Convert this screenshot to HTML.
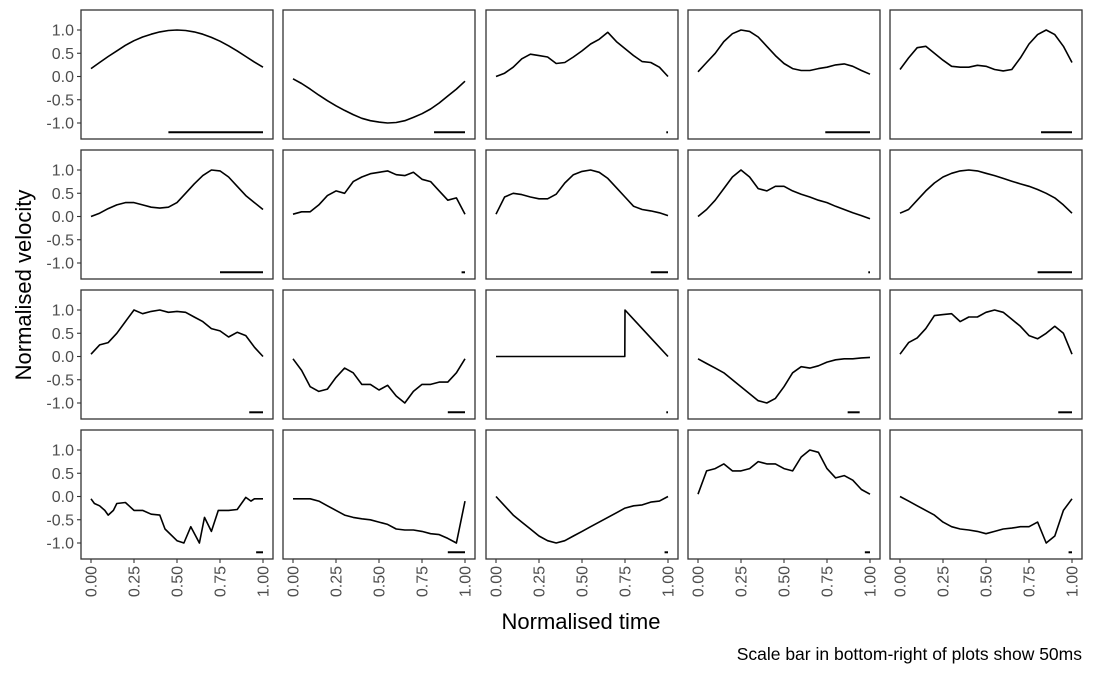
<!DOCTYPE html>
<html><head><meta charset="utf-8"><style>
html,body{margin:0;padding:0;background:#fff;}
svg{display:block;font-family:"Liberation Sans",sans-serif;}
</style></head><body>
<svg id="chart" width="1093" height="675" xmlns="http://www.w3.org/2000/svg"></svg>
<script>
const U=[0,0.05,0.1,0.15,0.2,0.25,0.3,0.35,0.4,0.45,0.5,0.55,0.6,0.65,0.7,0.75,0.8,0.85,0.9,0.95,1];
const yTickValues=[1,0.5,0,-0.5,-1];
const yTickLabels=["1.0","0.5","0.0","-0.5","-1.0"];
const xTickValues=[0,0.25,0.5,0.75,1];
const xTickLabels=["0.00","0.25","0.50","0.75","1.00"];
const s1=[0.17,0.3,0.43,0.55,0.67,0.77,0.85,0.91,0.96,0.99,1.0,0.99,0.96,0.91,0.84,0.76,0.66,0.55,0.43,0.31,0.2];
const s2=[-0.05,-0.15,-0.27,-0.4,-0.52,-0.63,-0.73,-0.82,-0.9,-0.95,-0.98,-1.0,-0.99,-0.95,-0.88,-0.8,-0.7,-0.57,-0.42,-0.27,-0.1];
const s3=[0,0.07,0.2,0.38,0.48,0.45,0.42,0.28,0.3,0.42,0.55,0.7,0.8,0.95,0.75,0.6,0.45,0.32,0.3,0.2,0.0];
const s4=[0.1,0.3,0.5,0.75,0.92,1.0,0.97,0.85,0.65,0.45,0.28,0.17,0.13,0.13,0.17,0.2,0.25,0.27,0.22,0.13,0.05];
const s5=[0.15,0.4,0.62,0.65,0.5,0.35,0.22,0.2,0.2,0.24,0.22,0.15,0.12,0.15,0.4,0.7,0.9,1.0,0.9,0.65,0.3];
const s6=[0,0.07,0.17,0.25,0.3,0.3,0.25,0.2,0.18,0.2,0.3,0.5,0.7,0.88,1.0,0.98,0.85,0.65,0.45,0.3,0.15];
const s7=[0.05,0.1,0.1,0.25,0.45,0.55,0.5,0.75,0.85,0.92,0.95,0.98,0.9,0.88,0.95,0.8,0.75,0.55,0.35,0.4,0.05];
const s8=[0.05,0.42,0.5,0.47,0.42,0.38,0.38,0.48,0.72,0.9,0.97,1.0,0.95,0.82,0.62,0.42,0.22,0.15,0.12,0.08,0.02];
const s9=[0,0.15,0.35,0.6,0.85,1.0,0.85,0.6,0.55,0.65,0.65,0.55,0.48,0.42,0.35,0.3,0.22,0.15,0.08,0.02,-0.05];
const s10=[0.07,0.15,0.35,0.55,0.72,0.85,0.93,0.98,1.0,0.98,0.93,0.88,0.82,0.76,0.7,0.65,0.58,0.5,0.4,0.25,0.07];
const s11=[0.05,0.25,0.3,0.5,0.75,1.0,0.92,0.97,1.0,0.95,0.97,0.95,0.85,0.75,0.6,0.55,0.42,0.52,0.45,0.2,0.0];
const s12=[-0.05,-0.3,-0.65,-0.75,-0.7,-0.45,-0.25,-0.35,-0.6,-0.6,-0.72,-0.62,-0.85,-1.0,-0.75,-0.6,-0.6,-0.55,-0.55,-0.35,-0.05];
const t13=[0,0.749,0.75,0.8,0.9,1.0];
const s13=[0,0,1,0.8,0.4,0];
const s14=[-0.05,-0.15,-0.25,-0.35,-0.5,-0.65,-0.8,-0.95,-1.0,-0.9,-0.65,-0.35,-0.22,-0.25,-0.2,-0.12,-0.07,-0.05,-0.05,-0.03,-0.02];
const s15=[0.05,0.3,0.4,0.6,0.88,0.9,0.92,0.75,0.85,0.85,0.95,1.0,0.95,0.8,0.65,0.45,0.38,0.5,0.65,0.5,0.05];
const t16=[0,0.02,0.05,0.08,0.1,0.13,0.15,0.2,0.25,0.3,0.35,0.4,0.43,0.5,0.54,0.58,0.63,0.66,0.7,0.74,0.8,0.85,0.9,0.93,0.95,1];
const s16=[-0.05,-0.15,-0.2,-0.3,-0.4,-0.3,-0.15,-0.13,-0.3,-0.3,-0.38,-0.4,-0.7,-0.95,-1.0,-0.65,-1.0,-0.45,-0.75,-0.3,-0.3,-0.28,-0.02,-0.1,-0.05,-0.05];
const s17=[-0.05,-0.05,-0.05,-0.1,-0.2,-0.3,-0.4,-0.45,-0.48,-0.5,-0.55,-0.6,-0.7,-0.72,-0.72,-0.75,-0.8,-0.82,-0.9,-1.0,-0.1];
const s18=[0,-0.2,-0.4,-0.55,-0.7,-0.85,-0.95,-1.0,-0.95,-0.85,-0.75,-0.65,-0.55,-0.45,-0.35,-0.25,-0.2,-0.18,-0.12,-0.1,0.0];
const s19=[0.05,0.55,0.6,0.7,0.55,0.55,0.6,0.75,0.7,0.7,0.6,0.55,0.85,1.0,0.95,0.6,0.4,0.45,0.35,0.15,0.05];
const s20=[0,-0.1,-0.2,-0.3,-0.4,-0.55,-0.65,-0.7,-0.72,-0.75,-0.8,-0.75,-0.7,-0.68,-0.65,-0.65,-0.55,-1.0,-0.85,-0.3,-0.05];
const seriesValues=[s1,s2,s3,s4,s5,s6,s7,s8,s9,s10,s11,s12,s13,s14,s15,s16,s17,s18,s19,s20];
const seriesTimes=[U,U,U,U,U,U,U,U,U,U,U,U,t13,U,U,t16,U,U,U,U];
const barStart=[0.45,0.82,0.99,0.74,0.82,0.75,0.98,0.9,0.99,0.8,0.92,0.9,0.99,0.87,0.92,0.96,0.9,0.98,0.97,0.98];
const barEnd=[1.0,1.0,1.0,1.0,1.0,1.0,1.0,1.0,1.0,1.0,1.0,1.0,1.0,0.94,1.0,1.0,1.0,1.0,1.0,1.0];

const NS="http://www.w3.org/2000/svg";
const svg=document.getElementById('chart');
const colLeft=[81,283,486,688,890], rowTop=[10,150,290,430], PW=192, PH=129;
function mk(tag,attrs,parent){const e=document.createElementNS(NS,tag);for(const k in attrs)e.setAttribute(k,attrs[k]);(parent||svg).appendChild(e);return e;}
for(let i=0;i<20;i++){
  const r=Math.floor(i/5), c=i%5, L=colLeft[c], T=rowTop[r];
  const xs=t=>L+10+t*172, ys=v=>T+20+(1-v)*46.5;
  const g=mk('g',{});
  
  
  const rect=mk('rect',{x:L,y:T,width:PW,height:PH,fill:'#fff',stroke:'#333','stroke-width':1.3},g);
  
  
  const ts=seriesTimes[i], vs=seriesValues[i];
  let d='';
  for(let k=0;k<vs.length;k++) d+=(k?'L':'M')+xs(ts[k]).toFixed(1)+','+ys(vs[k]).toFixed(1);
  const p=mk('path',{d:d,fill:'none',stroke:'#000','stroke-width':1.6,'stroke-linejoin':'round'},g);
  
  
  const by=ys(-1.2);
  const b=mk('line',{x1:xs(barStart[i]),x2:Math.max(xs(barEnd[i]),xs(barStart[i])+1.5),y1:by,y2:by,stroke:'#000','stroke-width':2},g);
  
  
  if(c===0){
    yTickValues.forEach((v,j)=>{
      mk('line',{x1:L-4,x2:L,y1:ys(v),y2:ys(v),stroke:'#333','stroke-width':1.1},g);
      const t=mk('text',{x:L-7,y:ys(v)+5.5,'text-anchor':'end','font-size':16,fill:'#4d4d4d'},g);
      t.textContent=yTickLabels[j];
      
      
    });
  }
  if(r===3){
    xTickValues.forEach((v,j)=>{
      mk('line',{x1:xs(v),x2:xs(v),y1:T+PH,y2:T+PH+4,stroke:'#333','stroke-width':1.1},g);
      const t=mk('text',{x:0,y:0,'text-anchor':'end','font-size':16,fill:'#4d4d4d',transform:`translate(${xs(v)+5.5},${T+PH+7}) rotate(-90)`},g);
      t.textContent=xTickLabels[j];
      
      
    });
  }
}
</script>
<div style="position:absolute;left:0;top:0;width:1093px;height:675px;pointer-events:none;font-family:'Liberation Sans',sans-serif;">
  <div style="position:absolute;left:24px;top:285px;transform:translate(-50%,-50%) rotate(-90deg);font-size:22px;white-space:nowrap;color:#000;">Normalised velocity</div>
  <div style="position:absolute;left:581px;top:622px;transform:translate(-50%,-50%);font-size:22px;white-space:nowrap;color:#000;">Normalised time</div>
  <div style="position:absolute;right:11px;top:644px;font-size:17.5px;white-space:nowrap;color:#000;">Scale bar in bottom-right of plots show 50ms</div>
</div>
</body></html>
